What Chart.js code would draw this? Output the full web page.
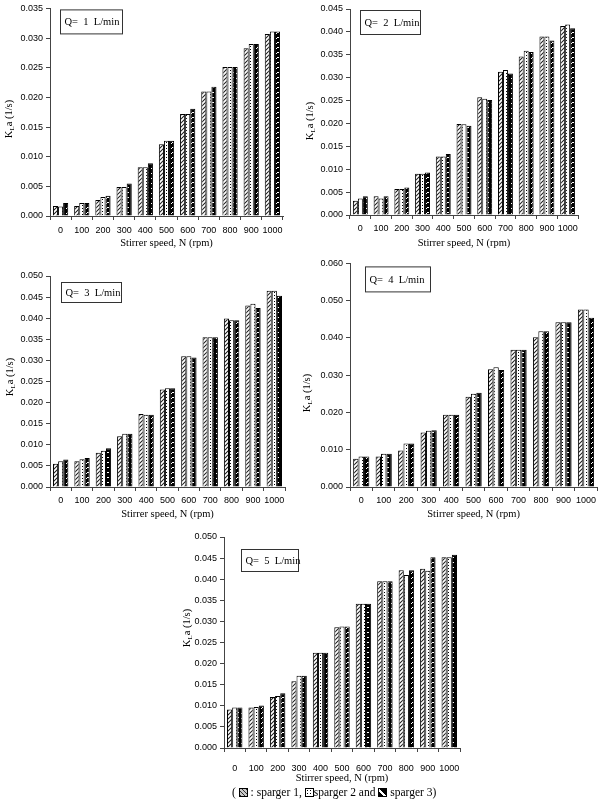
<!DOCTYPE html>
<html><head><meta charset="utf-8">
<script src="https://cdn.jsdelivr.net/npm/chart.js@4/dist/chart.umd.min.js"></script>
<style>
html,body{margin:0;padding:0;background:#fff;}
body{width:600px;height:801px;position:relative;overflow:hidden;}
canvas{position:absolute;}
#caption{position:absolute;z-index:5;left:232px;top:786px;font:11.5px 'Liberation Serif';white-space:nowrap;color:#000;}
.sw{display:inline-block;width:7px;height:7px;border:1px solid #000;vertical-align:-1px;}
.s1{background:repeating-linear-gradient(45deg,#333 0 1px,#c8c8c8 1px 3px);}
.s2{background:radial-gradient(circle,#000 0.7px,transparent 0.9px) 0 0/3px 3px,#fff;}
.s3{background:linear-gradient(45deg,#000 0 35%,#fff 35% 55%,#000 55% 100%);}
</style></head><body>
<canvas id="c1" width="300" height="255" style="left:0;top:0"></canvas>
<canvas id="c2" width="300" height="255" style="left:300px;top:0"></canvas>
<canvas id="c3" width="300" height="270" style="left:0;top:255px"></canvas>
<canvas id="c4" width="300" height="270" style="left:300px;top:255px"></canvas>
<canvas id="c5" width="330" height="262" style="left:150px;top:525px"></canvas>
<div id="caption">( <span class="sw s1"></span> : sparger 1, <span class="sw s2"></span>sparger 2 and <span class="sw s3"></span> sparger 3)</div>
<script>
// ---- data ----
const speeds = ['0','100','200','300','400','500','600','700','800','900','1000'];
const seriesNames = ['sparger 1','sparger 2','sparger 3'];
const panelTitles = ['Q=  1  L/min','Q=  2  L/min','Q=  3  L/min','Q=  4  L/min','Q=  5  L/min'];
const yMax = [0.035, 0.045, 0.050, 0.060, 0.050];
const yStep = [0.005, 0.005, 0.005, 0.010, 0.005];

const q1Sparger1 = [0.0017,0.0017,0.0027,0.0049,0.0082,0.0121,0.0172,0.0210,0.0251,0.0283,0.0307];
const q1Sparger2 = [0.0016,0.0022,0.0032,0.0049,0.0082,0.0127,0.0172,0.0210,0.0251,0.0290,0.0311];
const q1Sparger3 = [0.0022,0.0022,0.0034,0.0055,0.0089,0.0127,0.0181,0.0218,0.0251,0.0290,0.0311];

const q2Sparger1 = [0.0031,0.0041,0.0057,0.0090,0.0128,0.0199,0.0257,0.0313,0.0346,0.0390,0.0413];
const q2Sparger2 = [0.0036,0.0036,0.0057,0.0090,0.0128,0.0198,0.0254,0.0317,0.0359,0.0390,0.0416];
const q2Sparger3 = [0.0041,0.0041,0.0060,0.0093,0.0133,0.0195,0.0251,0.0309,0.0356,0.0381,0.0408];

const q3Sparger1 = [0.0055,0.0061,0.0081,0.0120,0.0173,0.0231,0.0310,0.0355,0.0399,0.0430,0.0465];
const q3Sparger2 = [0.0061,0.0066,0.0086,0.0126,0.0171,0.0234,0.0310,0.0355,0.0395,0.0434,0.0465];
const q3Sparger3 = [0.0065,0.0069,0.0092,0.0126,0.0171,0.0234,0.0307,0.0355,0.0395,0.0424,0.0453];

const q4Sparger1 = [0.0076,0.0082,0.0098,0.0146,0.0194,0.0242,0.0316,0.0368,0.0402,0.0442,0.0476];
const q4Sparger2 = [0.0082,0.0089,0.0117,0.0151,0.0194,0.0250,0.0321,0.0368,0.0418,0.0442,0.0476];
const q4Sparger3 = [0.0082,0.0089,0.0117,0.0152,0.0194,0.0253,0.0314,0.0368,0.0418,0.0442,0.0454];

const q5Sparger1 = [0.0091,0.0096,0.0121,0.0158,0.0226,0.0286,0.0342,0.0395,0.0421,0.0425,0.0452];
const q5Sparger2 = [0.0096,0.0097,0.0123,0.0171,0.0226,0.0288,0.0342,0.0395,0.0410,0.0420,0.0452];
const q5Sparger3 = [0.0096,0.0101,0.0130,0.0171,0.0226,0.0288,0.0342,0.0395,0.0421,0.0452,0.0458];

const panelData = [
  [q1Sparger1,q1Sparger2,q1Sparger3],
  [q2Sparger1,q2Sparger2,q2Sparger3],
  [q3Sparger1,q3Sparger2,q3Sparger3],
  [q4Sparger1,q4Sparger2,q4Sparger3],
  [q5Sparger1,q5Sparger2,q5Sparger3]
];

// ---- layout (canvas-local) ----
const layouts = [
  {id:'c1', pad:{top:6,right:17,left:0,bottom:0}, yW:50, xH:39, tickPad:5, titlePadB:5, qBox:{dx:10,dy:1,w:62,h:24}, yTitle:{x:9,y:119}},
  {id:'c2', pad:{top:9,right:22,left:0,bottom:0}, yW:50, xH:40, tickPad:4, titlePadB:5, qBox:{dx:10,dy:1,w:60,h:24}, yTitle:{x:10,y:121}},
  {id:'c3', pad:{top:21,right:15,left:0,bottom:0}, yW:50, xH:38, tickPad:4, titlePadB:4, qBox:{dx:11,dy:6,w:60,h:20}, yTitle:{x:10,y:122}},
  {id:'c4', pad:{top:7,right:0,left:0,bottom:0}, yW:50, xH:38, tickPad:4, titlePadB:4, qBox:{dx:15,dy:3,w:65,h:25}, yTitle:{x:7,y:138}},
  {id:'c5', pad:{top:12,right:20,left:0,bottom:0}, yW:74, xH:39, tickPad:11, titlePadB:2, qBox:{dx:17,dy:12,w:57,h:22}, yTitle:{x:37,y:103}}
];

// ---- patterns ----
function mkPattern(kind){
  const c=document.createElement('canvas');
  const x=c.getContext('2d');
  if(kind===0){
    c.width=4;c.height=4;
    x.fillStyle='#c4c4c4';x.fillRect(0,0,4,4);
    x.fillStyle='#2a2a2a';
    for(let i=0;i<4;i++){x.fillRect(i,3-i,1,1);}
    x.fillStyle='#ffffff';
    for(let i=0;i<4;i++){x.fillRect(i,(5-i)%4,1,1);}
  } else if(kind===1){
    c.width=4;c.height=3;
    x.fillStyle='#ffffff';x.fillRect(0,0,4,3);
    x.fillStyle='#000000';x.fillRect(2,1,1,1);
  } else {
    c.width=5;c.height=5;
    x.fillStyle='#000000';x.fillRect(0,0,5,5);
    x.fillStyle='#ffffff';
    x.fillRect(1,3,1,1);x.fillRect(2,2,1,1);x.fillRect(3,2,1,1);
  }
  return x.createPattern(c,'repeat');
}

const qBoxPlugin = {
  id:'qbox',
  afterDraw(chart, args, opts){
    const ctx=chart.ctx, a=chart.chartArea, b=opts.box;
    ctx.save();
    const x=a.left+b.dx+0.5, y=a.top+b.dy+0.5;
    ctx.fillStyle='#fff';ctx.fillRect(x,y,b.w,b.h);
    ctx.strokeStyle='#333';ctx.lineWidth=1;ctx.strokeRect(x,y,b.w,b.h);
    ctx.fillStyle='#000';ctx.font="10.5px 'Liberation Serif'";
    ctx.textBaseline='middle';ctx.textAlign='left';
    ctx.fillText(opts.text, x+4, y+b.h/2+0.5);
    ctx.restore();
  }
};
const yTitlePlugin = {
  id:'ytitle',
  afterDraw(chart, args, opts){
    const ctx=chart.ctx;
    ctx.save();
    ctx.translate(opts.x, opts.y);
    ctx.rotate(-Math.PI/2);
    ctx.fillStyle='#000';ctx.textBaseline='middle';ctx.textAlign='left';
    const big="10.5px 'Liberation Serif'", small="7px 'Liberation Serif'";
    ctx.font=big; const wK=ctx.measureText('K').width, wR=ctx.measureText('a (1/s)').width;
    ctx.font=small; const wL=ctx.measureText('L').width;
    let x0=-(wK+wL+wR)/2;
    ctx.font=big; ctx.fillText('K',x0,0);
    ctx.font=small; ctx.fillText('L',x0+wK,3);
    ctx.font=big; ctx.fillText('a (1/s)',x0+wK+wL,0);
    ctx.restore();
  }
};

const pats=[mkPattern(0),mkPattern(1),mkPattern(2)];

layouts.forEach((L,i)=>{
  const ctx=document.getElementById(L.id).getContext('2d');
  const datasets=panelData[i].map((arr,k)=>({
    label:seriesNames[k], data:arr, backgroundColor:pats[k],
    borderColor:'#000', borderWidth:1, borderSkipped:'bottom',
    categoryPercentage:0.72, barPercentage:1.0
  }));
  new Chart(ctx,{
    type:'bar',
    data:{labels:speeds, datasets},
    plugins:[qBoxPlugin,yTitlePlugin],
    options:{
      responsive:false, maintainAspectRatio:false, animation:false,
      layout:{padding:L.pad},
      plugins:{legend:{display:false}, tooltip:{enabled:false},
        qbox:{box:L.qBox, text:panelTitles[i]},
        ytitle:L.yTitle},
      scales:{
        x:{
          offset:true,
          grid:{offset:true, drawOnChartArea:false, drawTicks:true, tickLength:4, color:'#444', lineWidth:1},
          border:{display:true, color:'#444', width:1},
          ticks:{font:{family:'Liberation Sans', size:9}, color:'#000', padding:L.tickPad, maxRotation:0, autoSkip:false},
          title:{display:true, text:'Stirrer speed, N (rpm)', font:{family:'Liberation Serif', size:10.5}, color:'#000', padding:{top:0,bottom:L.titlePadB}},
          afterFit(s){ s.height=L.xH; }
        },
        y:{
          min:0, max:yMax[i],
          ticks:{stepSize:yStep[i], callback:v=>Number(v).toFixed(3), font:{family:'Liberation Sans', size:9}, color:'#000', padding:3},
          grid:{drawOnChartArea:false, drawTicks:true, tickLength:4, color:'#444'},
          border:{display:true, color:'#444', width:1},
          afterFit(s){ s.width=L.yW; }
        }
      }
    }
  });
});
</script>
</body></html>
